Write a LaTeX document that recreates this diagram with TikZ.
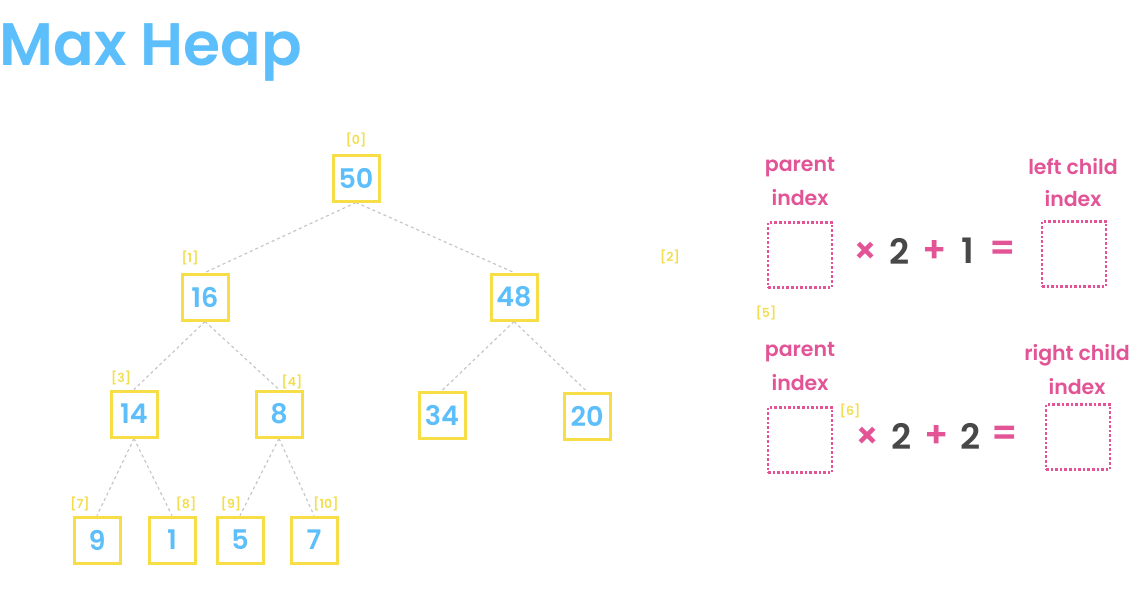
\documentclass[tikz,border=0pt]{standalone}
\usepackage{fontspec}
\setmainfont{Poppins}[BoldFont={Poppins SemiBold}]
\usepackage{tikz}
\usetikzlibrary{backgrounds}

\definecolor{heapblue}{RGB}{92,190,250}
\definecolor{heapyellow}{RGB}{248,222,70}
\definecolor{idxyellow}{RGB}{242,222,80}
\definecolor{heappink}{RGB}{226,84,150}
\definecolor{heapgray}{RGB}{72,72,72}

\tikzset{
	heapbox/.style={draw=heapyellow,line width=3pt,fill=white,minimum size=46pt,inner sep=0pt,
		text=heapblue,font=\fontsize{27}{30}\selectfont\bfseries},
	idx/.style={text=idxyellow,font=\fontsize{12.5}{14}\selectfont\bfseries},
	link/.style={draw=gray!45,dashed,line width=1.2pt},
	slot/.style={draw=heappink,dotted,line width=2.6pt,minimum width=64pt,minimum height=65pt,inner sep=0pt},
	word/.style={text=heappink,font=\fontsize{20.5}{24}\selectfont\bfseries},
	op/.style={text=heappink,font=\fontsize{36}{40}\selectfont\bfseries},
	digit/.style={text=heapgray,font=\fontsize{35}{40}\selectfont\bfseries}
}

\begin{document}
\begin{tikzpicture}[x=1pt,y=-1pt]
	\useasboundingbox (0,0) rectangle (1146,605);
	%TITLE
	\node[anchor=west,text=heapblue,font=\fontsize{60}{66}\selectfont\bfseries] (title) at (-4,52) {Max Heap};

	%HEAP NODES
	\foreach \name/\x/\y/\val in {n0/356/178/50, n1/205/297/16, n2/514/297/48, n3/134/414/14,
		n4/279/414/8, n5/442/415/34, n6/587/416/20, n7/97/540/9, n8/172/540/1,
		n9/240/540/5, n10/314/540/7}
		\node[heapbox] (\name) at (\x,\y) {\val};

	%EDGES
	\begin{scope}[on background layer]
	\foreach \p/\c in {n0/n1, n0/n2, n1/n3, n1/n4, n2/n5, n2/n6, n3/n7, n3/n8, n4/n9, n4/n10}
		\draw[link] (\p.south) -- (\c.north);
	\end{scope}

	%INDEX LABELS
	\node[idx] (i0)  at (356,140) {[0]};
	\node[idx] (i1)  at (190,258) {[1]};
	\node[idx] (i2)  at (670,257) {[2]};
	\node[idx] (i3)  at (121,378) {[3]};
	\node[idx] (i4)  at (292,382) {[4]};
	\node[idx] (i5)  at (766,313) {[5]};
	\node[idx] (i6)  at (850,411) {[6]};
	\node[idx] (i7)  at (80,504)  {[7]};
	\node[idx] (i8)  at (186,504) {[8]};
	\node[idx] (i9)  at (231,504) {[9]};
	\node[idx] (i10) at (326,504) {[10]};

	%LEFT CHILD FORMULA
	\node[word] (pa1) at (800,167) {parent};
	\node[word] (pb1) at (800,198) {index};
	\node[slot] (s1) at (800,255) {};
	\node[op]    (x1) at (866,253) {×};
	\node[digit] (t1) at (900,251) {2};
	\node[op]    (a1) at (935,251) {+};
	\node[digit] (o1) at (968,251) {1};
	\node[op]    (e1) at (1003,251) {=};
	\node[slot] (r1) at (1074,254) {};
	\node[word] (la1) at (1073,167) {left child};
	\node[word] (lb1) at (1073,199) {index};

	%RIGHT CHILD FORMULA
	\node[word] (pa2) at (800,352) {parent};
	\node[word] (pb2) at (800,383) {index};
	\node[slot] (s2) at (800,440) {};
	\node[op]    (x2) at (868,438) {×};
	\node[digit] (t2) at (902,436) {2};
	\node[op]    (a2) at (937,436) {+};
	\node[digit] (o2) at (971,436) {2};
	\node[op]    (e2) at (1005,436) {=};
	\node[slot] (r2) at (1078,437) {};
	\node[word] (ra2) at (1077,355) {right child};
	\node[word] (rb2) at (1077,387) {index};
\end{tikzpicture}
\end{document}
